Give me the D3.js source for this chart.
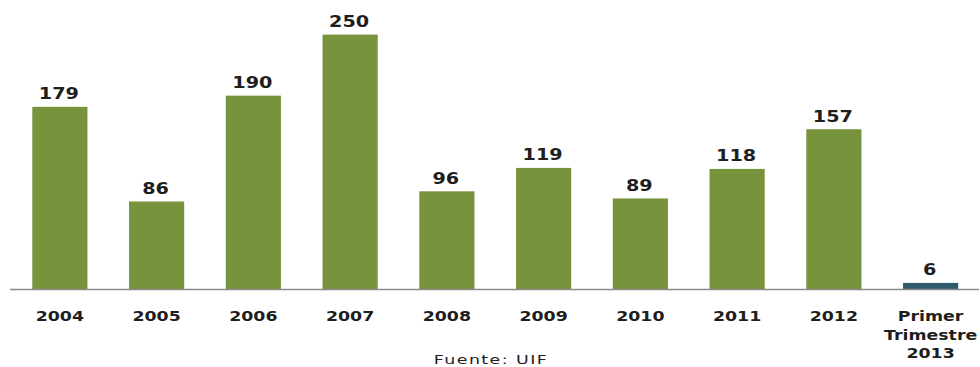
<!DOCTYPE html>
<html>
<head>
<meta charset="utf-8">
<script src="https://cdn.jsdelivr.net/npm/d3@7"></script>
<style>
  html, body { margin: 0; padding: 0; background: #fff; }
  svg { display: block; }
  text { font-family: "DejaVu Sans", Verdana, sans-serif; fill: #1e1e1e; }
</style>
</head>
<body>
<svg id="chart" width="980" height="367"></svg>
<script>
// Reportes por año (UIF)
const categories = ["2004", "2005", "2006", "2007", "2008", "2009", "2010", "2011", "2012", "Primer Trimestre 2013"];
const values = [179, 86, 190, 250, 96, 119, 89, 118, 157, 6];
// category label split into lines
const tickLines = [["2004"], ["2005"], ["2006"], ["2007"], ["2008"], ["2009"], ["2010"], ["2011"], ["2012"], ["Primer", "Trimestre", "2013"]];
const barColors = ["#77933C", "#77933C", "#77933C", "#77933C", "#77933C", "#77933C", "#77933C", "#77933C", "#77933C", "#2F5A6C"];
const sourceNote = "Fuente: UIF";

const svg = d3.select("#chart");
const baseY = 289;

const x = d3.scaleBand()
  .domain(categories)
  .range([11.5, 979])
  .paddingInner(0.43)
  .paddingOuter(0.215);

const y = d3.scaleLinear()
  .domain([0, 284])
  .range([baseY, 0]);

// bars
svg.append("g")
  .selectAll("rect")
  .data(categories)
  .join("rect")
  .attr("x", d => x(d))
  .attr("width", x.bandwidth())
  .attr("y", (d, i) => y(values[i]))
  .attr("height", (d, i) => baseY - y(values[i]))
  .attr("fill", (d, i) => barColors[i]);

// baseline
svg.append("line")
  .attr("x1", 10).attr("x2", 979)
  .attr("y1", baseY + 0.5).attr("y2", baseY + 0.5)
  .attr("stroke", "#8a8a8a")
  .attr("stroke-width", 1.5);

// value labels above each bar
svg.append("g")
  .selectAll("text")
  .data(categories)
  .join("text")
  .attr("transform", (d, i) => `translate(${x(d) + x.bandwidth() / 2 - 1},${y(values[i]) - 7.5}) scale(1.28,1)`)
  .attr("text-anchor", "middle")
  .attr("font-size", 15)
  .attr("font-weight", "bold")
  .text((d, i) => values[i]);

// category labels
const ticks = svg.append("g")
  .selectAll("g")
  .data(categories)
  .join("g")
  .attr("transform", d => `translate(${x(d) + x.bandwidth() / 2},0)`);

ticks.each(function (d, i) {
  d3.select(this).selectAll("text")
    .data(tickLines[i])
    .join("text")
    .attr("transform", (t, j) => `translate(0,${321 + j * 18.5}) scale(1.24,1)`)
    .attr("text-anchor", "middle")
    .attr("font-size", 14)
    .attr("font-weight", "bold")
    .attr("fill", "#2a2a2a")
    .text(t => t);
});

// source note
svg.append("text")
  .attr("transform", "translate(491,364) scale(1.45,1)")
  .attr("text-anchor", "middle")
  .attr("font-size", 12)
  .attr("letter-spacing", 1)
  .attr("fill", "#333")
  .text(sourceNote);
</script>
</body>
</html>
